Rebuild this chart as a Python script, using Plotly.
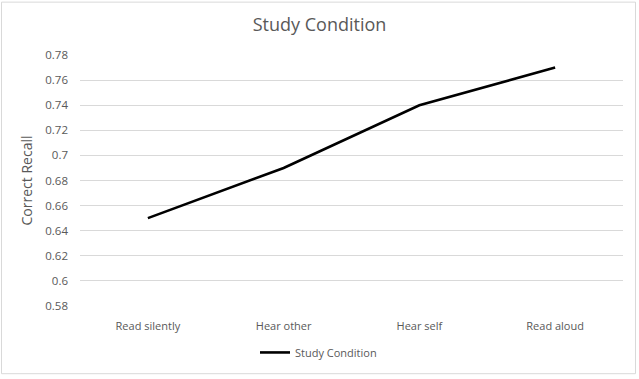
import plotly.graph_objects as go

categories = ["Read silently", "Hear other", "Hear self", "Read aloud"]
recall = [0.65, 0.69, 0.74, 0.77]
y_ticks = [0.58, 0.6, 0.62, 0.64, 0.66, 0.68, 0.7, 0.72, 0.74, 0.76, 0.78]
y_tick_text = ["0.58", "0.6", "0.62", "0.64", "0.66", "0.68", "0.7", "0.72", "0.74", "0.76", "0.78"]

W, H = 639, 379
L, R, T, B = 80, 16, 55, 70
pw, ph = W - L - R, H - T - B

def px_x(p):
    return (p - L) / pw

def px_y(p):
    return (H - B - p) / ph

fig = go.Figure()
fig.add_trace(go.Scatter(
    x=categories, y=recall, mode="lines", name="Study Condition",
    line=dict(color="black", width=2.6),
))

font_family = "Open Sans, Noto Sans, Liberation Sans, sans-serif"
fig.update_layout(
    width=W, height=H,
    margin=dict(l=L, r=R, t=T, b=B),
    paper_bgcolor="white", plot_bgcolor="white",
    font=dict(family=font_family, color="#595959", size=11),
    title=dict(text="Study Condition", x=0.5, xanchor="center", y=1 - 25 / H, yanchor="middle",
               font=dict(size=18, color="#595959", family=font_family)),
    showlegend=True,
    legend=dict(orientation="h", x=px_x(255), xanchor="left", y=px_y(356), yanchor="middle",
                font=dict(size=11, color="#595959"), itemwidth=30, bgcolor="rgba(0,0,0,0)"),
    xaxis=dict(type="category", range=[-0.5, 3.5], showgrid=False, showline=False, ticks="",
               tickfont=dict(size=11, color="#595959"), zeroline=False, ticklabelstandoff=12),
    yaxis=dict(range=[0.58, 0.78], tickvals=y_ticks, ticktext=y_tick_text,
               showgrid=True, gridcolor="#d9d9d9", gridwidth=1, zeroline=False, showline=False,
               ticks="", tickfont=dict(size=11.5, color="#595959"), ticklabelstandoff=11,
               title=dict(text="Correct Recall", font=dict(size=14, color="#595959"), standoff=9)),
    shapes=[dict(type="rect", xref="paper", yref="paper",
                 x0=px_x(1.5), x1=px_x(635.5), y0=px_y(377.5), y1=px_y(1.5),
                 line=dict(color="#d9d9d9", width=1), fillcolor="rgba(0,0,0,0)", layer="below")],
)

fig.write_html("out.html", config={"displayModeBar": False},
               post_script="document.body.style.margin='0';document.body.style.overflow='hidden';")
